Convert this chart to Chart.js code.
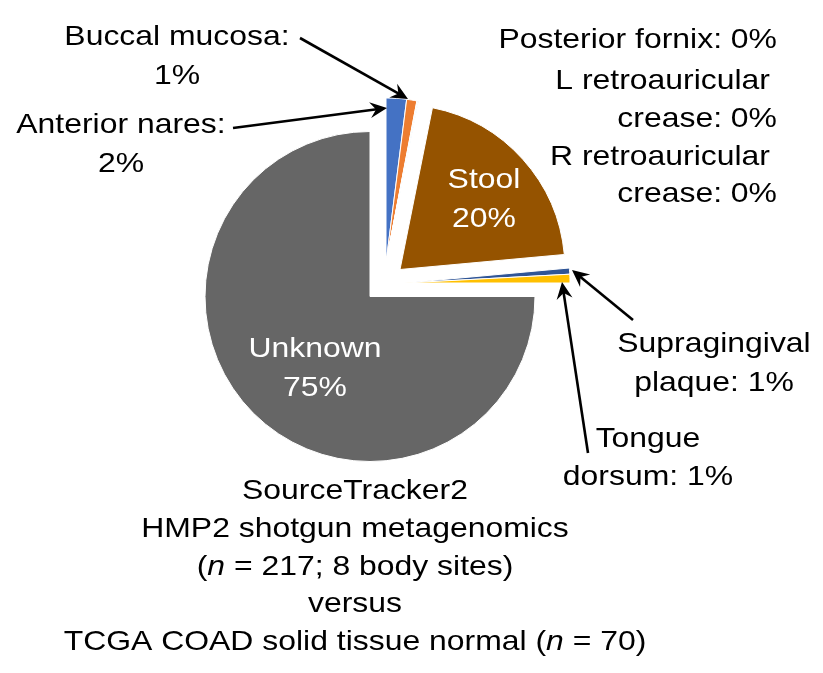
<!DOCTYPE html>
<html>
<head>
<meta charset="utf-8">
<script src="https://cdn.jsdelivr.net/npm/chart.js@4.4.1/dist/chart.umd.min.js"></script>
<style>
body { margin: 0; background: #fff; }
canvas { display: block; }
</style>
</head>
<body>
<canvas id="pie" width="823" height="673"></canvas>
<script>
var sites = ["Anterior nares", "Buccal mucosa", "Posterior fornix", "L retroauricular crease",
	"R retroauricular crease", "Stool", "Supragingival plaque", "Tongue dorsum", "Unknown"];
var shares = [2.0, 1.0, 0.05, 0.05, 0.05, 20.4, 0.6, 0.85, 75.0];
var colours = ["#4472C4", "#ED7D31", "#A5A5A5", "#FFC000", "#5B9BD5", "#955300", "#2F5597", "#FFC000", "#666666"];

// how far each slice is pulled away from the centre (px)
var pullX = [16, 16, 16, 16, 16, 30, 35, 35, 0];
var pullY = [-33.5, -33.5, -33.5, -33.5, -33.5, -27, -13.5, -13.5, 0];

var STRETCH = 1.14;
var FONT = '28px "Liberation Sans", Arial, sans-serif';

function pct(i) {
	return Math.round(shares[i]) + "%";
}

// text around the pie, *x* = italic
var callouts = [
	{lines: ["Buccal mucosa:", pct(1)], x: 177, y: 45, align: "center", arrow: [300, 38, 408, 99]},
	{lines: ["Anterior nares:", pct(0)], x: 121, y: 133, align: "center", arrow: [233, 128, 387, 108]},
	{lines: ["Posterior fornix: " + pct(2)], x: 777, y: 48, align: "right"},
	{lines: ["L retroauricular"], x: 770, y: 89, align: "right"},
	{lines: ["crease: " + pct(3)], x: 777, y: 127, align: "right"},
	{lines: ["R retroauricular"], x: 770, y: 164.5, align: "right"},
	{lines: ["crease: " + pct(4)], x: 777, y: 202, align: "right"},
	{lines: ["Supragingival", "plaque: " + pct(6)], x: 714, y: 352, align: "center", arrow: [633, 320, 572, 270]},
	{lines: ["Tongue", "dorsum: " + pct(7)], x: 648, y: 446.5, align: "center", arrow: [588, 453, 562, 282]},
	{lines: ["Stool", pct(5)], x: 484, y: 188, align: "center", colour: "#fff"},
	{lines: ["Unknown", pct(8)], x: 315, y: 357, align: "center", colour: "#fff"},
	{lines: ["SourceTracker2", "HMP2 shotgun metagenomics", "(*n* = 217; 8 body sites)", "versus",
		"TCGA COAD solid tissue normal (*n* = 70)"], x: 355, y: 499, align: "center", gap: 37.8}
];

function drawLine(ctx, text, x, y, align, colour) {
	var runs = text.split("*");
	ctx.save();
	ctx.translate(x, y);
	ctx.scale(STRETCH, 1);
	ctx.textAlign = "left";
	ctx.textBaseline = "alphabetic";
	ctx.fillStyle = colour;
	var w = 0;
	for (var i = 0; i < runs.length; i++) {
		ctx.font = (i % 2 ? "italic " : "") + FONT;
		w += ctx.measureText(runs[i]).width;
	}
	var cx = 0;
	if (align == "center") cx = -w / 2;
	else if (align == "right") cx = -w;
	for (var i = 0; i < runs.length; i++) {
		ctx.font = (i % 2 ? "italic " : "") + FONT;
		ctx.fillText(runs[i], cx, 0);
		cx += ctx.measureText(runs[i]).width;
	}
	ctx.restore();
}

function drawArrow(ctx, x1, y1, x2, y2) {
	var a = Math.atan2(y2 - y1, x2 - x1);
	var L = 17, W = 8;
	ctx.save();
	ctx.strokeStyle = "#000";
	ctx.fillStyle = "#000";
	ctx.lineWidth = 2.6;
	ctx.beginPath();
	ctx.moveTo(x1, y1);
	ctx.lineTo(x2 - Math.cos(a) * L * 0.6, y2 - Math.sin(a) * L * 0.6);
	ctx.stroke();
	ctx.translate(x2, y2);
	ctx.rotate(a);
	ctx.beginPath();
	ctx.moveTo(0, 0);
	ctx.lineTo(-L, -W);
	ctx.lineTo(-L * 0.65, 0);
	ctx.lineTo(-L, W);
	ctx.closePath();
	ctx.fill();
	ctx.restore();
}

var pullOut = {
	id: "pullOut",
	afterDatasetsUpdate: function(chart) {
		var ca = chart.chartArea;
		var cx = (ca.left + ca.right) / 2;
		var cy = (ca.top + ca.bottom) / 2;
		chart.getDatasetMeta(0).data.forEach(function(arc, i) {
			arc.x = cx + pullX[i];
			arc.y = cy + pullY[i];
		});
	}
};

var callText = {
	id: "callText",
	afterDatasetsDraw: function(chart) {
		var ctx = chart.ctx;
		callouts.forEach(function(c) {
			c.lines.forEach(function(t, k) {
				drawLine(ctx, t, c.x, c.y + k * (c.gap || 38.5), c.align, c.colour || "#000");
			});
			if (c.arrow)
				drawArrow(ctx, c.arrow[0], c.arrow[1], c.arrow[2], c.arrow[3]);
		});
	}
};

var pie = new Chart(document.getElementById("pie").getContext("2d"), {
	type: "pie",
	data: {
		labels: sites,
		datasets: [{
			data: shares,
			backgroundColor: colours,
			borderColor: "#fff",
			borderWidth: 1
		}]
	},
	options: {
		responsive: false,
		animation: false,
		events: [],
		radius: 165,
		layout: {padding: {left: 180, right: 263, top: 106.5, bottom: 186.5}},
		plugins: {
			legend: {display: false},
			tooltip: {enabled: false}
		}
	},
	plugins: [pullOut, callText]
});
</script>
</body>
</html>
